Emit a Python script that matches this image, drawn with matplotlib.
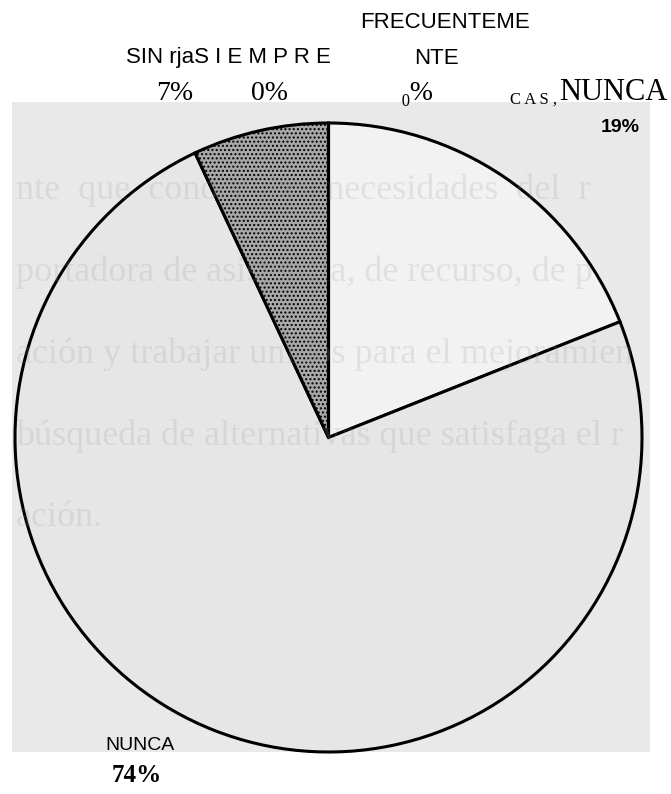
import matplotlib
matplotlib.use("Agg")
import matplotlib.pyplot as plt

# --- Data ---
categories = ["CASI NUNCA", "NUNCA", "SIN RESPUESTA", "SIEMPRE", "FRECUENTEMENTE"]
values = [19, 74, 7, 0, 0]
slice_colors = ["#f2f2f2", "#e6e6e6", "#a8a8a8", "#a8a8a8", "#a8a8a8"]
slice_hatches = ["", "", "....", "", ""]

# faint text bleeding through from the other side of the scanned page
ghost_lines = [
    "nte  que  conoce  las  necesidades  del  r",
    "portadora de asistencia, de recurso, de p",
    "ación y trabajar unidos para el mejoramien",
    "búsqueda de alternativas que satisfaga el r",
    "ación.",
]
ghost_y = [190, 272, 354, 436, 518]

W, H = 671, 794
SANS = ["Liberation Sans", "DejaVu Sans"]
SERIF = ["Liberation Serif", "DejaVu Serif"]


def fx(x):
    return x / W


def fy(y):
    return 1 - y / H


fig = plt.figure(figsize=(W / 100, H / 100), dpi=100)

# scanned grey background behind the pie
bg = fig.add_axes([fx(12), fy(752), (650 - 12) / W, (752 - 102) / H])
bg.set_facecolor("#e9e9e9")
bg.set_xticks([])
bg.set_yticks([])
for s in bg.spines.values():
    s.set_visible(False)

# pie
ax = fig.add_axes([fx(15), fy(752), (642 - 15) / W, (752 - 123) / H])
wedges, _ = ax.pie(values, startangle=90, counterclock=False,
                   colors=slice_colors, radius=1,
                   wedgeprops=dict(edgecolor="black", linewidth=2.2, clip_on=False))
for w, h in zip(wedges, slice_hatches):
    if h:
        w.set_hatch(h)
        w.set_edgecolor("black")
ax.set_aspect("auto")
ax.set_xlim(-1, 1)
ax.set_ylim(-1, 1)
ax.axis("off")

# ghost text overlay
ov = fig.add_axes(bg.get_position())
ov.patch.set_alpha(0)
ov.set_xlim(12, 650)
ov.set_ylim(752, 102)
ov.axis("off")
for line, y in zip(ghost_lines, ghost_y):
    ov.text(16, y, line, fontsize=26, family=SERIF, color="#9a9a9a",
            alpha=0.2, va="center", ha="left", clip_on=True)

# labels
fig.text(fx(445), fy(22), "FRECUENTEME", fontsize=16, family=SANS, ha="center", va="center")
fig.text(fx(436), fy(58), "NTE", fontsize=16, family=SANS, ha="center", va="center")
fig.text(fx(228), fy(58), "SIN rjaS I E M P R E", fontsize=16, family=SANS, ha="center", va="center")
fig.text(fx(175), fy(94), "7%", fontsize=20, family=SERIF, ha="center", va="center")
fig.text(fx(270), fy(94), "0%", fontsize=20, family=SERIF, ha="center", va="center")
fig.text(fx(417), fy(94), "₀%", fontsize=20, family=SERIF, ha="center", va="center")
fig.text(fx(510), fy(100), "C A S ,", fontsize=12, family=SERIF, ha="left", va="center")
fig.text(fx(667), fy(93), "NUNCA", fontsize=22, family=SERIF, ha="right", va="center")
fig.text(fx(620), fy(127), "19%", fontsize=14, family=SANS, weight="bold", ha="center", va="center")
fig.text(fx(140), fy(745), "NUNCA", fontsize=14, family=SANS, ha="center", va="center")
fig.text(fx(137), fy(776), "74%", fontsize=18, family=SERIF, weight="bold", ha="center", va="center")

fig.savefig("out.png", dpi=100)
